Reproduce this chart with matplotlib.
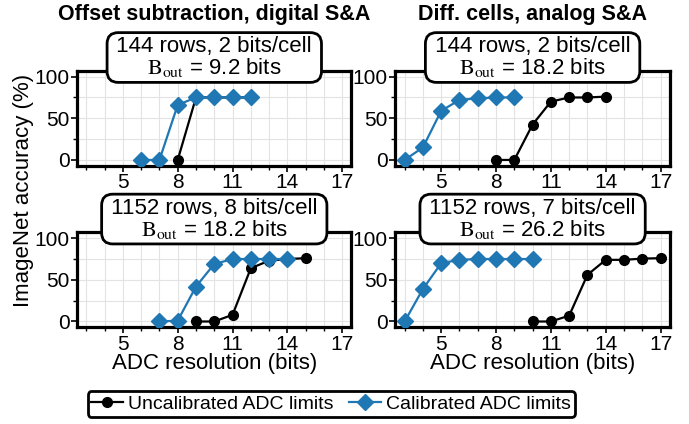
import matplotlib.pyplot as plt
import numpy as np

plt.rcParams['font.family'] = ['Liberation Sans', 'DejaVu Sans']
plt.rcParams['mathtext.fontset'] = 'stix'

# Panel data: (x, y) for uncalibrated (black) and calibrated (blue)
unc_x = [[8, 9, 10, 11, 12],
         [8, 9, 10, 11, 12, 13, 14],
         [9, 10, 11, 12, 13, 14, 15],
         [10, 11, 12, 13, 14, 15, 16, 17]]
unc_y = [[0, 75, 75, 75, 75],
         [0, 0, 42.5, 70, 75, 75, 76],
         [0, 0, 8, 64, 73, 75, 76],
         [0, 0, 7, 56, 74, 74, 75.5, 76]]
cal_x = [[6, 7, 8, 9, 10, 11, 12],
         [3, 4, 5, 6, 7, 8, 9],
         [7, 8, 9, 10, 11, 12, 13, 14],
         [3, 4, 5, 6, 7, 8, 9, 10]]
cal_y = [[0, 0, 66, 75, 75, 75, 75],
         [0, 15, 59, 72, 74, 75, 75],
         [0, 1, 42, 69, 75, 75, 75, 75],
         [0, 39, 70, 74, 75, 75, 75, 75]]
box_labels = [" 144 rows, 2 bits/cell \n$\\mathrm{B_{out}}$ = 9.2 bits",
              " 144 rows, 2 bits/cell \n$\\mathrm{B_{out}}$ = 18.2 bits",
              " 1152 rows, 8 bits/cell \n$\\mathrm{B_{out}}$ = 18.2 bits",
              " 1152 rows, 7 bits/cell \n$\\mathrm{B_{out}}$ = 26.2 bits"]
col_titles = ["Offset subtraction, digital S&A", "Diff. cells, analog S&A"]

fig = plt.figure(figsize=(6.89, 4.24), dpi=100)
lefts = [0.112, 0.574]
bottoms = [0.609, 0.228]
w, h = 0.398, 0.224

axes = []
for r in range(2):
    for c in range(2):
        axes.append(fig.add_axes([lefts[c], bottoms[r], w, h]))

for i, ax in enumerate(axes):
    ax.plot(unc_x[i], unc_y[i], '-o', color='black', lw=1.6, ms=7,
            label='Uncalibrated ADC limits', zorder=3)
    ax.plot(cal_x[i], cal_y[i], '-D', color='#1f77b4', lw=1.6, ms=8,
            label='Calibrated ADC limits', zorder=4)
    ax.set_xlim(2.5, 17.5)
    ax.set_ylim(-7, 107)
    ax.set_xticks([5, 8, 11, 14, 17])
    ax.set_xticks(np.arange(3, 18), minor=True)
    ax.set_yticks([0, 50, 100])
    ax.set_yticks([25, 75], minor=True)
    ax.grid(True, which='both', color='#e3e3e3', lw=0.8, zorder=0)
    ax.set_axisbelow(True)
    for s in ax.spines.values():
        s.set_linewidth(2.3)
    ax.tick_params(which='major', labelsize=15, width=1.2, length=4, pad=1.5)
    ax.tick_params(which='minor', width=1.0, length=3)
    ax.text(0.5, 1.14, box_labels[i], transform=ax.transAxes, ha='center',
            va='center', fontsize=16, linespacing=0.95,
            bbox=dict(boxstyle='round,pad=0.15,rounding_size=0.5',
                      fc='white', ec='black', lw=2), zorder=10, clip_on=False)

for c in range(2):
    fig.text(lefts[c] + w / 2, 0.965, col_titles[c], ha='center', va='center',
             fontsize=15.5, fontweight='bold')
    fig.text(lefts[c] + w / 2, 0.142, 'ADC resolution (bits)', ha='center',
             va='center', fontsize=16)

fig.text(0.034, 0.55, 'ImageNet accuracy (%)', rotation=90, ha='center',
         va='center', fontsize=16)

handles, labels = axes[0].get_legend_handles_labels()
leg = fig.legend(handles, labels, loc='center', bbox_to_anchor=(0.481, 0.047),
                 ncol=2, fontsize=14, frameon=True, fancybox=True,
                 handlelength=1.6, handletextpad=0.3, columnspacing=0.8,
                 borderpad=0.2, framealpha=1)
leg.get_frame().set_edgecolor('black')
leg.get_frame().set_linewidth(2)

fig.savefig('out.png', dpi=100)
